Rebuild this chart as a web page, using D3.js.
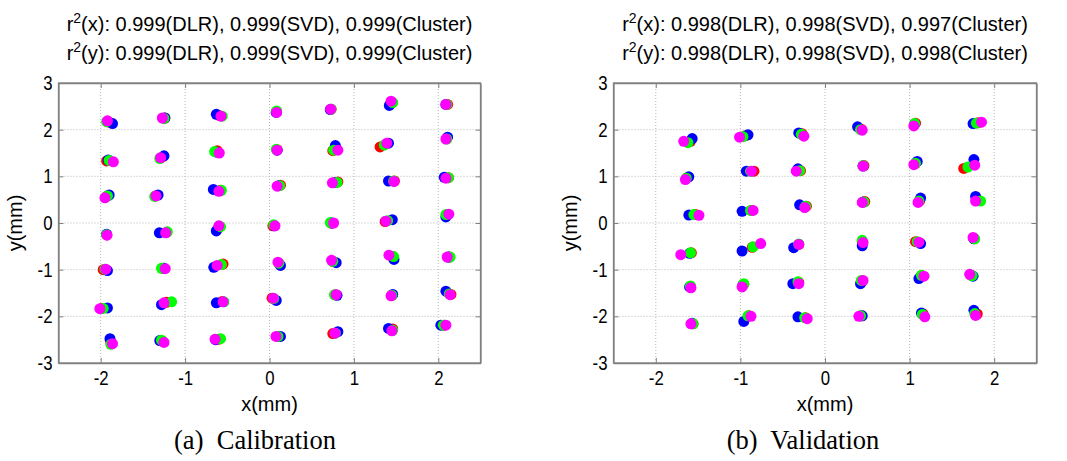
<!DOCTYPE html>
<html>
<head>
<meta charset="utf-8">
<script src="https://cdn.jsdelivr.net/npm/d3@7"></script>
<style>
  html, body { margin: 0; padding: 0; background: #fff; }
  svg { display: block; }
</style>
</head>
<body>
<svg id="chart" width="1067" height="461"></svg>
<script>
// ---------------- DATA ----------------
const xTicks = [-2, -1, 0, 1, 2];
const yTicks = [3, 2, 1, 0, -1, -2, -3];
const panelTitles = [
  ["0.999(DLR), 0.999(SVD), 0.999(Cluster)", "0.999(DLR), 0.999(SVD), 0.999(Cluster)"],
  ["0.998(DLR), 0.998(SVD), 0.997(Cluster)", "0.998(DLR), 0.998(SVD), 0.998(Cluster)"]
];
const captions = ["(a)  Calibration", "(b)  Validation"];
const seriesColors = ["#ff0000", "#0000ff", "#00ff00", "#ff00ff"];

// Calibration (7x7 grid), each series as [x, y]
const calRed = [
  [-1.90,2.16],[-1.24,2.25],[-0.59,2.30],[0.08,2.38],[0.73,2.44],[1.45,2.58],[2.11,2.54],
  [-1.93,1.33],[-1.28,1.40],[-0.62,1.55],[0.09,1.57],[0.75,1.55],[1.31,1.63],[2.10,1.81],
  [-1.93,0.57],[-1.35,0.58],[-0.58,0.70],[0.13,0.81],[0.81,0.88],[1.48,0.90],[2.12,0.97],
  [-1.93,-0.25],[-1.22,-0.20],[-0.60,-0.10],[0.04,-0.06],[0.73,0.00],[1.37,0.03],[2.10,0.17],
  [-1.97,-1.00],[-1.26,-0.97],[-0.55,-0.88],[0.11,-0.86],[0.75,-0.82],[1.46,-0.72],[2.13,-0.73],
  [-1.99,-1.83],[-1.22,-1.70],[-0.56,-1.68],[0.03,-1.61],[0.78,-1.54],[1.45,-1.55],[2.15,-1.53],
  [-1.88,-2.55],[-1.27,-2.53],[-0.60,-2.49],[0.10,-2.43],[0.75,-2.37],[1.46,-2.27],[2.07,-2.19]
];
const calBlue = [
  [-1.86,2.13],[-1.24,2.25],[-0.63,2.33],[0.08,2.37],[0.72,2.43],[1.42,2.52],[2.09,2.54],
  [-1.91,1.35],[-1.25,1.44],[-0.63,1.52],[0.09,1.56],[0.78,1.66],[1.41,1.71],[2.11,1.84],
  [-1.90,0.60],[-1.32,0.60],[-0.665,0.72],[0.11,0.80],[0.78,0.87],[1.41,0.90],[2.07,0.98],
  [-1.93,-0.24],[-1.305,-0.21],[-0.63,-0.17],[0.06,-0.06],[0.74,0.00],[1.455,0.07],[2.09,0.13],
  [-1.92,-1.02],[-1.25,-0.97],[-0.66,-0.95],[0.13,-0.91],[0.79,-0.85],[1.475,-0.78],[2.12,-0.73],
  [-1.92,-1.82],[-1.28,-1.75],[-0.63,-1.71],[0.08,-1.66],[0.80,-1.55],[1.46,-1.53],[2.09,-1.46],
  [-1.89,-2.48],[-1.30,-2.52],[-0.64,-2.50],[0.13,-2.43],[0.81,-2.33],[1.41,-2.26],[2.03,-2.19]
];
const calGreen = [
  [-1.93,2.17],[-1.25,2.24],[-0.56,2.29],[0.085,2.40],[0.73,2.44],[1.46,2.58],[2.10,2.54],
  [-1.90,1.34],[-1.30,1.38],[-0.65,1.53],[0.08,1.58],[0.76,1.56],[1.36,1.67],[2.10,1.80],
  [-1.92,0.58],[-1.36,0.57],[-0.57,0.70],[0.12,0.80],[0.80,0.87],[1.47,0.90],[2.12,0.97],
  [-1.93,-0.25],[-1.21,-0.19],[-0.58,-0.08],[0.05,-0.04],[0.72,0.01],[1.40,0.05],[2.09,0.18],
  [-1.95,-0.99],[-1.28,-0.97],[-0.57,-0.89],[0.11,-0.86],[0.75,-0.82],[1.47,-0.72],[2.14,-0.73],
  [-1.97,-1.83],[-1.16,-1.69],[-0.54,-1.69],[0.05,-1.62],[0.77,-1.54],[1.45,-1.55],[2.13,-1.52],
  [-1.88,-2.60],[-1.28,-2.51],[-0.58,-2.48],[0.10,-2.43],[0.78,-2.36],[1.46,-2.30],[2.06,-2.19]
];
const calMagenta = [
  [-1.92,2.19],[-1.27,2.25],[-0.575,2.29],[0.085,2.37],[0.725,2.44],[1.44,2.61],[2.09,2.54],
  [-1.85,1.31],[-1.29,1.40],[-0.595,1.50],[0.09,1.56],[0.81,1.56],[1.39,1.71],[2.09,1.80],
  [-1.95,0.54],[-1.345,0.58],[-0.60,0.68],[0.09,0.79],[0.745,0.86],[1.475,0.89],[2.09,0.96],
  [-1.925,-0.26],[-1.23,-0.21],[-0.60,-0.06],[0.065,-0.06],[0.76,0.00],[1.38,0.04],[2.125,0.19],
  [-1.94,-0.99],[-1.235,-0.98],[-0.62,-0.91],[0.10,-0.84],[0.735,-0.80],[1.415,-0.69],[2.105,-0.73],
  [-2.01,-1.835],[-1.25,-1.71],[-0.55,-1.69],[0.045,-1.61],[0.79,-1.535],[1.44,-1.56],[2.14,-1.535],
  [-1.86,-2.585],[-1.25,-2.56],[-0.645,-2.49],[0.077,-2.43],[0.776,-2.36],[1.45,-2.31],[2.09,-2.19]
];

// Validation (6x6 grid)
const valRed = [
  [-1.59,1.75],[-0.94,1.87],[-0.27,1.91],[0.43,2.01],[1.07,2.14],[1.81,2.15],
  [-1.63,0.97],[-0.84,1.11],[-0.29,1.12],[0.46,1.23],[1.07,1.28],[1.64,1.17],
  [-1.53,0.18],[-0.87,0.27],[-0.22,0.36],[0.47,0.46],[1.12,0.48],[1.82,0.48],
  [-1.58,-0.64],[-0.86,-0.52],[-0.31,-0.46],[0.44,-0.40],[1.07,-0.40],[1.76,-0.33],
  [-1.59,-1.36],[-0.96,-1.31],[-0.31,-1.27],[0.44,-1.24],[1.14,-1.13],[1.73,-1.12],
  [-1.56,-2.16],[-0.90,-1.99],[-0.23,-2.03],[0.43,-1.99],[1.16,-1.95],[1.80,-1.95]
];
const valBlue = [
  [-1.57,1.81],[-0.91,1.89],[-0.31,1.93],[0.385,2.06],[1.06,2.12],[1.75,2.13],
  [-1.61,0.99],[-0.93,1.11],[-0.32,1.16],[0.45,1.22],[1.09,1.32],[1.76,1.36],
  [-1.61,0.17],[-0.98,0.25],[-0.30,0.39],[0.45,0.45],[1.13,0.535],[1.78,0.57],
  [-1.60,-0.65],[-0.98,-0.60],[-0.37,-0.53],[0.44,-0.49],[1.13,-0.44],[1.76,-0.34],
  [-1.60,-1.37],[-0.97,-1.33],[-0.38,-1.30],[0.42,-1.30],[1.11,-1.19],[1.75,-1.14],
  [-1.57,-2.15],[-0.96,-2.11],[-0.32,-2.01],[0.44,-1.99],[1.14,-1.93],[1.76,-1.87]
];
const valGreen = [
  [-1.62,1.72],[-0.97,1.85],[-0.28,1.90],[0.42,2.00],[1.06,2.13],[1.79,2.14],
  [-1.64,0.96],[-0.88,1.11],[-0.30,1.12],[0.45,1.23],[1.07,1.28],[1.69,1.20],
  [-1.55,0.18],[-0.88,0.27],[-0.23,0.36],[0.46,0.45],[1.11,0.47],[1.84,0.47],
  [-1.59,-0.64],[-0.85,-0.51],[-0.31,-0.45],[0.44,-0.37],[1.09,-0.40],[1.77,-0.34],
  [-1.59,-1.35],[-0.96,-1.30],[-0.32,-1.26],[0.43,-1.23],[1.14,-1.12],[1.74,-1.13],
  [-1.56,-2.16],[-0.91,-1.99],[-0.24,-2.03],[0.42,-1.99],[1.15,-1.96],[1.77,-1.94]
];
const valMagenta = [
  [-1.67,1.75],[-1.01,1.84],[-0.25,1.86],[0.44,1.99],[1.05,2.08],[1.85,2.16],
  [-1.65,0.93],[-0.87,1.11],[-0.34,1.11],[0.45,1.22],[1.05,1.25],[1.77,1.24],
  [-1.49,0.165],[-0.85,0.27],[-0.24,0.33],[0.44,0.44],[1.10,0.44],[1.78,0.47],
  [-1.705,-0.68],[-0.76,-0.44],[-0.31,-0.46],[0.45,-0.42],[1.11,-0.41],[1.75,-0.31],
  [-1.585,-1.39],[-0.98,-1.37],[-0.31,-1.30],[0.45,-1.23],[1.17,-1.14],[1.71,-1.10],
  [-1.585,-2.16],[-0.875,-2.00],[-0.21,-2.05],[0.40,-2.00],[1.18,-2.01],[1.78,-1.98]
];

const panelSeries = [
  [calRed, calBlue, calGreen, calMagenta],
  [valRed, valBlue, valGreen, valMagenta]
];

// ---------------- DRAW ----------------
const svg = d3.select("#chart");
const sansFont = "'Liberation Sans', Arial, Helvetica, sans-serif";
const serifFont = "'Liberation Serif', 'Times New Roman', serif";

const panels = [
  { left: 58.5, right: 480.5, capX: 255 },
  { left: 613.5, right: 1036.5, capX: 803 }
];
const plotTop = 83, plotBottom = 363;
const tickScaleX = 0.84;

panels.forEach((p, i) => {
  const x = d3.scaleLinear().domain([-2.5, 2.5]).range([p.left, p.right]);
  const y = d3.scaleLinear().domain([-3, 3]).range([plotBottom, plotTop]);
  const g = svg.append("g");
  const w = p.right - p.left, h = plotBottom - plotTop;

  // grid
  g.append("g").selectAll("line").data(xTicks).join("line")
    .attr("x1", d => x(d)).attr("x2", d => x(d))
    .attr("y1", plotTop).attr("y2", plotBottom)
    .attr("stroke", "#b8b8b8").attr("stroke-width", 1)
    .attr("stroke-dasharray", "1,2");
  g.append("g").selectAll("line").data(yTicks.filter(d => d > -3 && d < 3)).join("line")
    .attr("y1", d => y(d)).attr("y2", d => y(d))
    .attr("x1", p.left).attr("x2", p.right)
    .attr("stroke", "#b8b8b8").attr("stroke-width", 1)
    .attr("stroke-dasharray", "1,2");

  // points
  panelSeries[i].forEach((series, si) => {
    g.append("g").selectAll("circle").data(series).join("circle")
      .attr("cx", d => x(d[0])).attr("cy", d => y(d[1]))
      .attr("r", 5.5)
      .attr("fill", seriesColors[si]);
  });

  // axes (box with inward ticks)
  const axisColor = "#808080";
  const fmt = d => String(d);
  const bottomAxis = d3.axisBottom(x).tickValues(xTicks).tickSizeInner(-5).tickSizeOuter(0).tickPadding(8).tickFormat(fmt);
  const leftAxis = d3.axisLeft(y).tickValues(yTicks).tickSizeInner(-5).tickSizeOuter(0).tickPadding(6).tickFormat(fmt);
  const topAxis = d3.axisTop(x).tickValues(xTicks).tickSizeInner(-5).tickSizeOuter(0).tickFormat("");
  const rightAxis = d3.axisRight(y).tickValues(yTicks).tickSizeInner(-5).tickSizeOuter(0).tickFormat("");

  const gb = g.append("g").attr("transform", `translate(0,${plotBottom})`).call(bottomAxis);
  const gl = g.append("g").attr("transform", `translate(${p.left},0)`).call(leftAxis);
  const gt = g.append("g").attr("transform", `translate(0,${plotTop})`).call(topAxis);
  const gr = g.append("g").attr("transform", `translate(${p.right},0)`).call(rightAxis);
  [gb, gl, gt, gr].forEach(a => {
    a.selectAll("path.domain").attr("stroke", axisColor).attr("stroke-width", 1.3);
    a.selectAll(".tick line").attr("stroke", axisColor).attr("stroke-width", 1);
    a.selectAll(".tick text").attr("fill", "#000")
      .style("font-family", sansFont).style("font-size", "20px");
  });
  // condense tick labels horizontally
  [gb, gl].forEach(a => {
    a.selectAll(".tick text").each(function() {
      const t = d3.select(this);
      const x0 = +t.attr("x") || 0;
      t.attr("x", x0 / tickScaleX).attr("transform", `scale(${tickScaleX},1)`);
    });
  });
  g.append("rect").attr("x", p.left).attr("y", plotTop).attr("width", w).attr("height", h)
    .attr("fill", "none").attr("stroke", axisColor).attr("stroke-width", 1.3);

  const cx = (p.left + p.right) / 2;
  // axis labels
  g.append("text").attr("x", cx).attr("y", 411)
    .attr("text-anchor", "middle")
    .style("font-family", sansFont).style("font-size", "20px")
    .text("x(mm)");
  g.append("text")
    .attr("transform", `translate(${p.left - 37},${(plotTop + plotBottom) / 2}) rotate(-90)`)
    .attr("text-anchor", "middle")
    .style("font-family", sansFont).style("font-size", "20px")
    .text("y(mm)");

  // titles
  ["x", "y"].forEach((v, li) => {
    const t = g.append("text").attr("x", cx).attr("y", 31 + li * 29)
      .attr("text-anchor", "middle")
      .style("font-family", sansFont).style("font-size", "20px");
    t.append("tspan").text("r");
    t.append("tspan").attr("dy", -8).style("font-size", "14px").text("2");
    t.append("tspan").attr("dy", 8).text(`(${v}): ${panelTitles[i][li]}`);
  });

  // caption
  g.append("text").attr("x", p.capX).attr("y", 449)
    .attr("text-anchor", "middle")
    .style("font-family", serifFont).style("font-size", "26.5px")
    .attr("xml:space", "preserve")
    .text(captions[i]);
});
</script>
</body>
</html>
